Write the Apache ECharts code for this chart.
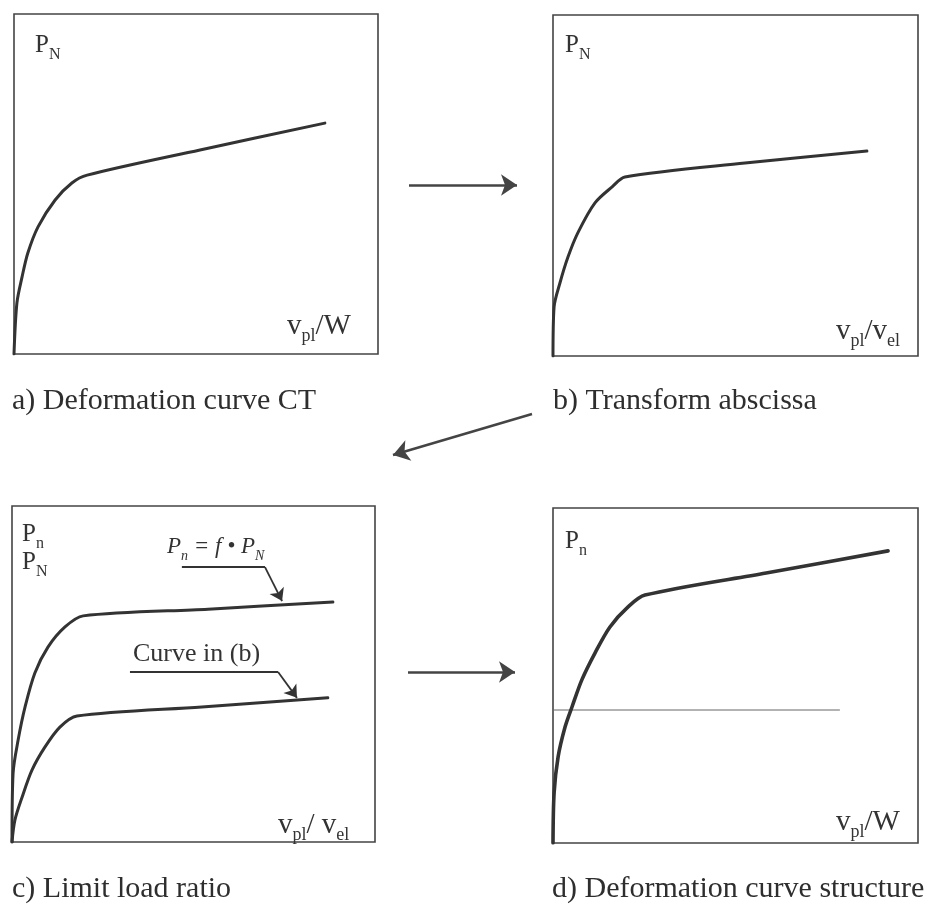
<!DOCTYPE html>
<html><head><meta charset="utf-8">
<script src="https://cdn.jsdelivr.net/npm/echarts@6/dist/echarts.min.js"></script>
<style>html,body{margin:0;padding:0;background:#fff}#c{width:946px;height:906px}</style>
</head><body><div id="c"></div>
<script>
// ---- data (each panel: x and y in % of its axis range) ----
const curveA = [[0,0],[0.8,15],[2.2,22.6],[3.8,29.7],[6.6,37.4],[11.3,45.3],[15.9,50.3],[20.1,52.6],[51.1,60],[85.4,67.9]];
const curveB = [[0,0],[0.3,14.4],[1.9,21.4],[4.1,29],[6.8,36.1],[11.5,44.9],[16.2,49.6],[19.7,52.5],[52.6,56.6],[86,60.1]];
const curveCUpper = [[0,0],[0.3,20.5],[1.7,30.4],[3.6,40.2],[6.3,50.3],[9.9,58],[14.6,64],[19.6,67.3],[54,69.3],[88.4,71.4]];
const curveCLower = [[0,0],[0.8,6.5],[2.8,13.4],[5.5,21.4],[9.1,28.3],[13.2,34.2],[17.9,37.5],[52.3,40.2],[87,42.9]];
const curveD = [[0,0],[0.3,14.9],[1.4,25.7],[3.3,34.6],[5.2,40.6],[7.9,48.7],[11.5,56.7],[15.6,64.5],[20.5,70.4],[25.2,74],[58.4,80.6],[91.8,87.2]];
const refLineD = [[0,39.7],[78.6,39.7]];
// annotation leaders in panel c: horizontal tail, then pointer to the curve
const leaderUpperTail = [[46.8,81.8],[69.7,81.8]];
const leaderUpperHead = [[69.7,81.8],[74.4,71.7]];
const leaderLowerTail = [[32.5,50.6],[73.3,50.6]];
const leaderLowerHead = [[73.3,50.6],[78.5,42.9]];
// flow arrows between panels (page units)
const flowArrows = [[[409,185],[517,185]], [[532,414],[393,455]], [[408,672],[515,672]]];
const captions = ['a) Deformation curve CT', 'b) Transform abscissa', 'c) Limit load ratio', 'd) Deformation curve structure'];

const INK = '#333';
const SERIF = '"Liberation Serif", "DejaVu Serif", serif';
const chart = echarts.init(document.getElementById('c'), null, {renderer: 'canvas'});

const grids = [
  {left: 14, top: 14, width: 364, height: 340},
  {left: 553, top: 15, width: 365, height: 341},
  {left: 12, top: 506, width: 363, height: 336},
  {left: 553, top: 508, width: 365, height: 335}
].map(g => Object.assign({show: true, borderColor: '#444', borderWidth: 1.6, backgroundColor: 'transparent'}, g));
grids.push({left: 0, top: 0, width: 946, height: 906, show: false});

const xAxes = [0,1,2,3].map(i => ({gridIndex: i, type: 'value', min: 0, max: 100, show: false}));
xAxes.push({gridIndex: 4, type: 'value', min: 0, max: 946, show: false});
const yAxes = [0,1,2,3].map(i => ({gridIndex: i, type: 'value', min: 0, max: 100, show: false}));
yAxes.push({gridIndex: 4, type: 'value', min: 0, max: 906, inverse: true, show: false});

function curve(data, idx, w) {
  return {type: 'line', data: data, xAxisIndex: idx, yAxisIndex: idx, showSymbol: false, symbol: 'none',
    smooth: 0.3, lineStyle: {color: INK, width: w || 3, join: 'round', cap: 'round'}, z: 3};
}
function segs(idx, list, size, width, color) {
  return {type: 'lines', coordinateSystem: 'cartesian2d', xAxisIndex: idx, yAxisIndex: idx,
    symbol: ['none', 'none'], lineStyle: {color: color, width: width, opacity: 1},
    data: list.map(item => ({coords: item.c, symbol: item.arrow ? ['none', 'arrow'] : ['none', 'none'],
      symbolSize: size, symbolOffset: [0, size / 2]})), z: 4};
}

const rich = {
  m: {fontFamily: SERIF, fontSize: 25, color: INK, verticalAlign: 'middle', lineHeight: 34},
  s: {fontFamily: SERIF, fontSize: 16, color: INK, verticalAlign: 'bottom', lineHeight: 36},
  L: {fontFamily: SERIF, fontSize: 29, color: INK, verticalAlign: 'middle', lineHeight: 36},
  ls: {fontFamily: SERIF, fontSize: 18, color: INK, verticalAlign: 'bottom', lineHeight: 38},
  mi: {fontFamily: SERIF, fontSize: 23, fontStyle: 'italic', color: INK, verticalAlign: 'middle', lineHeight: 28},
  si: {fontFamily: SERIF, fontSize: 14, fontStyle: 'italic', color: INK, verticalAlign: 'bottom', lineHeight: 32}
};
function label(x, y, text) {
  return {type: 'text', x: x, y: y, style: {text: text, rich: rich, align: 'left', verticalAlign: 'top', fill: INK}};
}
function caption(x, y, t) {
  return {type: 'text', x: x, y: y, style: {text: t, font: '30px ' + SERIF, fill: '#2e2e2e', verticalAlign: 'bottom'}};
}

chart.setOption({
  animation: false,
  backgroundColor: '#fff',
  grid: grids,
  xAxis: xAxes,
  yAxis: yAxes,
  series: [
    curve(curveA, 0, 3),
    curve(curveB, 1, 3),
    curve(curveCUpper, 2, 3),
    curve(curveCLower, 2, 3),
    curve(curveD, 3, 3.6),
    {type: 'line', data: refLineD, xAxisIndex: 3, yAxisIndex: 3, showSymbol: false, symbol: 'none', lineStyle: {color: '#666', width: 1}, z: 2},
    segs(2, [{c: leaderUpperTail}, {c: leaderUpperHead, arrow: true}, {c: leaderLowerTail}, {c: leaderLowerHead, arrow: true}], 12, 1.8, INK),
    segs(4, flowArrows.map(c => ({c: c, arrow: true})), 16, 2.5, '#444')
  ],
  graphic: [
    label(35, 27, '{m|P}{s|N}'),
    label(287, 307, '{L|v}{ls|pl}{L|/W}'),
    label(565, 27, '{m|P}{s|N}'),
    label(836, 312, '{L|v}{ls|pl}{L|/v}{ls|el}'),
    label(22, 516, '{m|P}{s|n}'),
    label(22, 544, '{m|P}{s|N}'),
    label(278, 806, '{L|v}{ls|pl}{L|/ v}{ls|el}'),
    label(565, 523, '{m|P}{s|n}'),
    label(836, 803, '{L|v}{ls|pl}{L|/W}'),
    label(167, 531, '{mi|P}{si|n}{mi| = f • P}{si|N}'),
    {type: 'text', x: 133, y: 667, style: {text: 'Curve in (b)', font: '26px ' + SERIF, fill: INK, verticalAlign: 'bottom'}},
    caption(12, 416, captions[0]),
    caption(553, 416, captions[1]),
    caption(12, 904, captions[2]),
    caption(552, 904, captions[3])
  ]
});
</script></body></html>
